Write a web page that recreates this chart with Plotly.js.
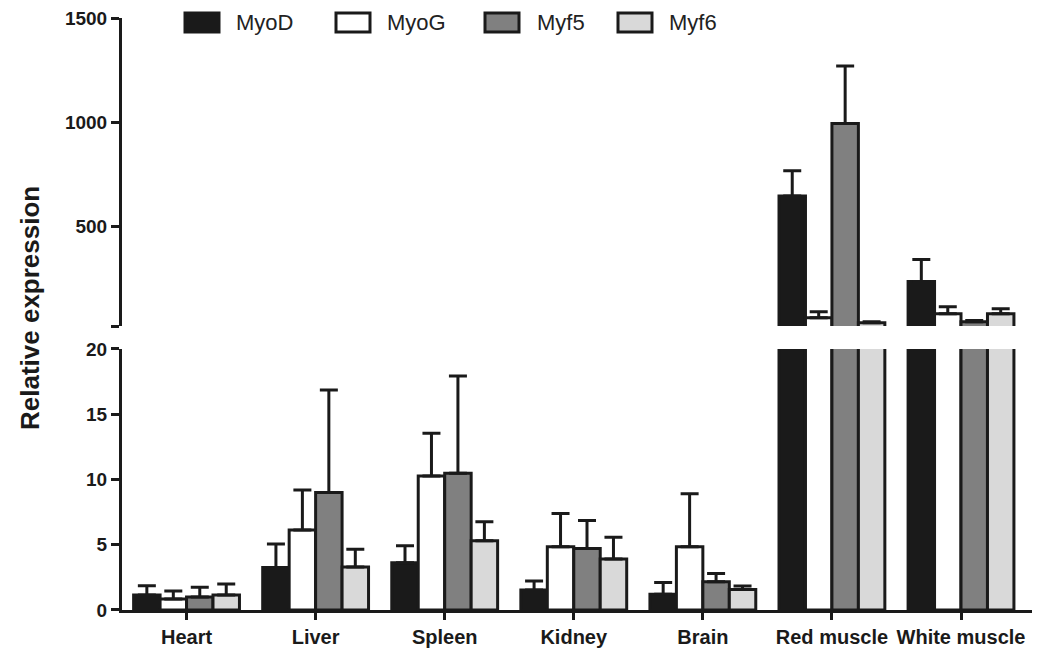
<!DOCTYPE html>
<html>
<head>
<meta charset="utf-8">
<script src="https://cdn.plot.ly/plotly-3.0.1.min.js"></script>
<style>html,body{margin:0;padding:0;background:#fff;}#chart{width:1047px;height:648px;}</style>
</head>
<body>
<div id="chart"></div>
<script>
const categories = ['Heart', 'Liver', 'Spleen', 'Kidney', 'Brain', 'Red muscle', 'White muscle'];
const seriesNames = ['MyoD', 'MyoG', 'Myf5', 'Myf6'];
const myoD = [1.15, 3.25, 3.63, 1.53, 1.2, 645, 234];
const myoDErr = [0.7, 1.8, 1.3, 0.7, 0.9, 121, 106];
const myoG = [0.85, 6.13, 10.27, 4.85, 4.85, 60, 79];
const myoGErr = [0.6, 3.07, 3.27, 2.55, 4.05, 29, 34];
const myf5 = [1.0, 9.0, 10.47, 4.72, 2.17, 993, 40];
const myf5Err = [0.75, 7.86, 7.46, 2.13, 0.63, 276, 6];
const myf6 = [1.15, 3.3, 5.3, 3.9, 1.58, 36, 79];
const myf6Err = [0.85, 1.35, 1.47, 1.67, 0.26, 4, 24];
const lowTicks = [0, 5, 10, 15, 20];
const highTicks = [20, 500, 1000, 1500];
const highTickText = ['', '500', '1000', '1500'];
const breakValue = 20;

const values = [myoD, myoG, myf5, myf6];
const errors = [myoDErr, myoGErr, myf5Err, myf6Err];
const fills = ['#1a1a1a', '#ffffff', '#808080', '#d9d9d9'];
const ink = '#1a1a1a';
const FONT = 'Arial, "Liberation Sans", Helvetica, sans-serif';

const traces = [];
['y', 'y2'].forEach(ax => {
  seriesNames.forEach((name, i) => {
    const top = ax === 'y2';
    const yv = top ? values[i].map(v => v > breakValue ? v : null) : values[i];
    const ev = top ? errors[i].map((e, j) => values[i][j] > breakValue ? e : null) : errors[i];
    traces.push({
      type: 'bar',
      name: name,
      x: categories,
      y: yv,
      yaxis: ax,
      showlegend: false,
      marker: {color: fills[i], line: {color: ink, width: 3}},
      error_y: {
        type: 'data', symmetric: false,
        array: ev, arrayminus: ev.map(() => 0),
        color: ink, thickness: 3, width: 9
      },
      hoverinfo: 'x+y+name'
    });
  });
});

// custom legend (large swatches as in the reference)
const plotL = 122, plotR = 1032, plotT = 18, plotB = 610;
const px2x = p => (p - plotL) / (plotR - plotL);
const px2y = p => (plotB - p) / (plotB - plotT);
const swatchLeft = [185, 336, 485, 618];
const textLeft = [234, 385, 535, 667];
const shapes = [];
const annotations = [];
seriesNames.forEach((name, i) => {
  shapes.push({
    type: 'rect', xref: 'paper', yref: 'paper',
    x0: px2x(swatchLeft[i]), x1: px2x(swatchLeft[i] + 34),
    y0: px2y(32), y1: px2y(13),
    fillcolor: fills[i], line: {color: ink, width: 3}
  });
  annotations.push({
    xref: 'paper', yref: 'paper', x: px2x(textLeft[i]), y: px2y(22),
    xanchor: 'left', yanchor: 'middle', showarrow: false,
    text: name, font: {family: FONT, size: 22, color: '#222'}
  });
});
annotations.push({
  xref: 'paper', yref: 'paper', x: px2x(30), y: px2y(308),
  xanchor: 'center', yanchor: 'middle', showarrow: false, textangle: -90,
  text: 'Relative expression', font: {family: FONT, size: 26, color: ink, weight: 'bold'}
});

const axisCommon = {
  showline: true, linecolor: ink, linewidth: 3,
  ticks: 'outside', tickcolor: ink, tickwidth: 3, ticklen: 8,
  showgrid: false, zeroline: false,
  tickfont: {family: FONT, size: 19, color: ink, weight: 'bold'}
};

const layout = {
  width: 1047, height: 648,
  margin: {l: plotL, r: 1047 - plotR, t: plotT, b: 648 - plotB},
  paper_bgcolor: '#ffffff', plot_bgcolor: '#ffffff',
  barmode: 'group', bargap: 0.18, bargroupgap: 0,
  showlegend: false,
  xaxis: Object.assign({}, axisCommon, {
    type: 'category', range: [-0.5, 6.55], anchor: 'y',
    ticklen: 7, tickfont: {family: FONT, size: 20, color: ink, weight: 'bold'}
  }),
  yaxis: Object.assign({}, axisCommon, {
    domain: [0, 0.4409], range: [0, 20], tickvals: lowTicks, anchor: 'x'
  }),
  yaxis2: Object.assign({}, axisCommon, {
    domain: [0.4797, 1], range: [20, 1500], tickvals: highTicks, ticktext: highTickText, anchor: 'x'
  }),
  shapes: shapes,
  annotations: annotations
};

Plotly.newPlot('chart', traces, layout, {displayModeBar: false, staticPlot: true});
</script>
</body>
</html>
